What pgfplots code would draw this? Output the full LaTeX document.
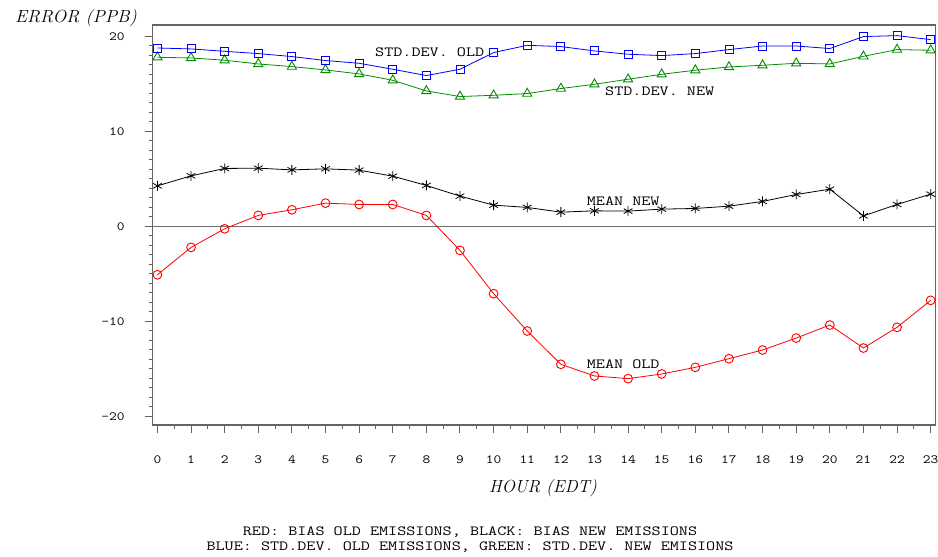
\documentclass[border=0pt]{standalone}
\usepackage{pgfplots}
\usepackage{pgfplotstable}
\usepackage{graphicx}
\pgfplotsset{compat=1.18}
\definecolor{cblue}{RGB}{0,0,255}
\definecolor{cgreen}{RGB}{0,140,0}
\definecolor{cred}{RGB}{255,0,0}
\definecolor{agray}{RGB}{100,100,100}
\definecolor{zgray}{RGB}{110,110,110}
\newcommand\mono[1]{\scalebox{1.26}[1]{\ttfamily\fontsize{14bp}{16bp}\selectfont #1}}
\newcommand\ital[2]{\scalebox{#1}[1]{\itshape\fontsize{17.5bp}{20bp}\selectfont #2}}

\pgfplotstableread{
hour meanold meannew sdold sdnew
0  -5.09  4.27 18.78 17.80
1  -2.21  5.32 18.68 17.73
2  -0.25  6.10 18.43 17.49
3   1.16  6.13 18.19 17.10
4   1.75  5.95 17.88 16.82
5   2.45  6.06 17.46 16.47
6   2.31  5.92 17.17 16.05
7   2.31  5.29 16.54 15.38
8   1.16  4.31 15.88 14.26
9  -2.52  3.19 16.54 13.67
10 -7.08  2.24 18.30 13.80
11 -11.01 2.00 19.06 13.98
12 -14.51 1.50 18.93 14.51
13 -15.74 1.64 18.47 14.96
14 -16.02 1.61 18.12 15.49
15 -15.53 1.82 17.98 16.01
16 -14.83 1.89 18.19 16.44
17 -13.92 2.13 18.61 16.78
18 -13.01 2.63 18.99 16.96
19 -11.75 3.36 18.99 17.17
20 -10.38 3.92 18.72 17.10
21 -12.80 1.11 19.98 17.90
22 -10.62 2.31 20.08 18.61
23 -7.78  3.40 19.66 18.54
}\datatable

\begin{document}
\begin{tikzpicture}[x=1bp,y=1bp]
\useasboundingbox (0,0) rectangle (938,557);
\begin{axis}[
  at={(152.7bp,132bp)}, anchor=south west,
  scale only axis, width=783bp, height=400bp,
  xmin=-0.14, xmax=23.15, ymin=-20.9, ymax=21.2,
  axis line style={agray, line width=1.2bp},
  xtick={0,...,23},
  xticklabels={0,1,2,3,4,5,6,7,8,9,10,11,12,13,14,15,16,17,18,19,20,21,22,23},
  minor x tick num=1,
  ytick={-20,-10,0,10,20},
  yticklabels={-20,-10,0,10,20},
  minor y tick num=9,
  tick align=outside, xtick pos=left, ytick pos=left,
  major tick length=8bp, minor tick length=4bp,
  tick style={agray, line width=1bp},
  xticklabel style={font=\ttfamily\fontsize{12.5bp}{14bp}\selectfont, xscale=1.2, anchor=base, yshift=-30.3bp},
  yticklabel style={font=\ttfamily\fontsize{12.5bp}{14bp}\selectfont, xscale=1.2, anchor=base east, xshift=-13.2bp, yshift=-3.8bp},
  every axis plot/.append style={line width=0.8bp},
]
\addplot[zgray, line width=1bp, no marks] coordinates {(-0.14,0) (23.15,0)};
\addplot[cred, mark=o, mark size=4.4bp, mark options={solid, line width=0.9bp}] table[x=hour, y=meanold] {\datatable};
\addplot[black, mark=asterisk, mark size=5bp, mark options={solid, line width=0.8bp}] table[x=hour, y=meannew] {\datatable};
\addplot[cgreen, mark=triangle, mark size=5.3bp, mark options={solid, line width=0.9bp}] table[x=hour, y=sdnew] {\datatable};
\addplot[cblue, mark=square, mark size=4bp, mark options={solid, line width=0.9bp}] table[x=hour, y=sdold] {\datatable};
\end{axis}
\node[anchor=base, inner sep=0] at (76,534.2) {\ital{1.04}{ERROR (PPB)}};
\node[anchor=base, inner sep=0] at (543,64.2) {\ital{1}{HOUR (EDT)}};
\node[anchor=base west, inner sep=0] at (375,500) {\mono{STD.DEV. OLD}};
\node[anchor=base west, inner sep=0] at (605,461) {\mono{STD.DEV. NEW}};
\node[anchor=base west, inner sep=0] at (586.7,351) {\mono{MEAN NEW}};
\node[anchor=base west, inner sep=0] at (586.7,188.4) {\mono{MEAN OLD}};
\node[anchor=base, inner sep=0] at (470,21.7) {\mono{RED: BIAS OLD EMISSIONS, BLACK: BIAS NEW EMISSIONS}};
\node[anchor=base, inner sep=0] at (470,6.7) {\mono{BLUE: STD.DEV. OLD EMISSIONS, GREEN: STD.DEV. NEW EMISIONS}};
\end{tikzpicture}
\end{document}
